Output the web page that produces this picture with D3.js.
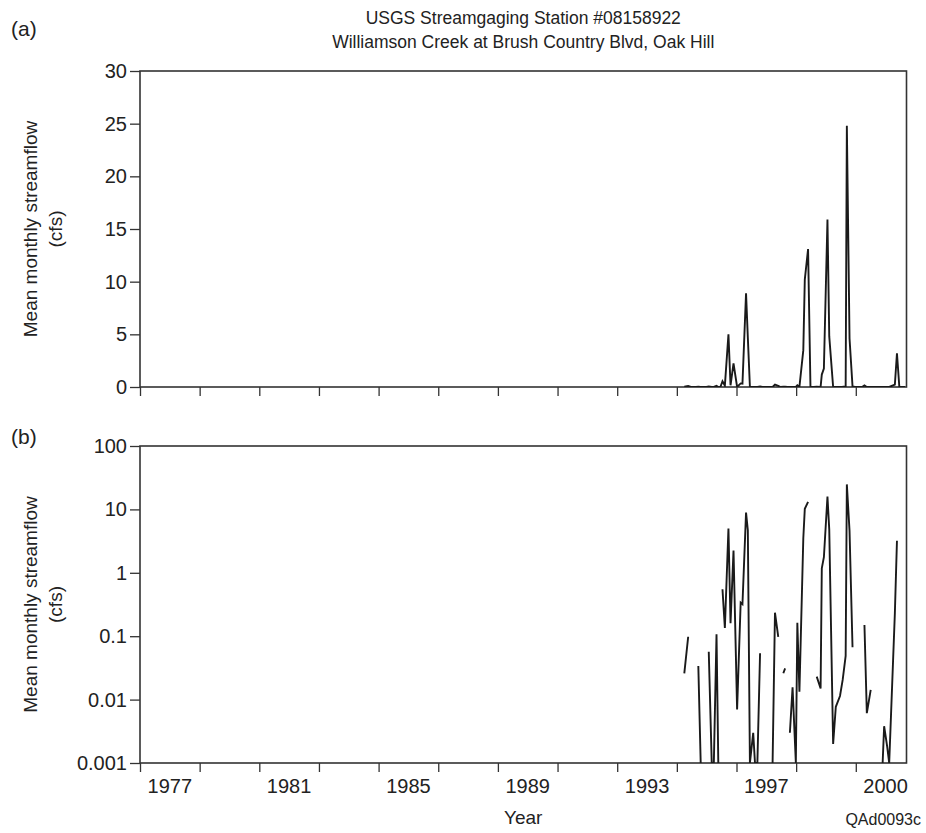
<!DOCTYPE html>
<html><head><meta charset="utf-8">
<script src="https://cdn.jsdelivr.net/npm/d3@7"></script>
<style>
body{margin:0;background:#fff}
text{font-family:"Liberation Sans",Arial,Helvetica,sans-serif;fill:#222}
</style>
</head><body>
<svg id="c" width="926" height="833"></svg>
<script>
// ---- data (decimal year, mean monthly streamflow in cfs) ----
const years = [1994.25,1994.38,1994.47,1994.64,1994.72,1994.80,1994.88,1994.99,
  1995.07,1995.17,1995.24,1995.33,1995.39,1995.46,1995.53,1995.61,1995.73,1995.80,1995.90,
  1996.02,1996.14,1996.20,1996.32,1996.38,1996.45,1996.56,1996.62,1996.70,1996.79,1996.87,
  1997.12,1997.21,1997.29,1997.40,1997.48,1997.57,1997.63,1997.71,1997.79,1997.88,1997.99,
  1998.04,1998.11,1998.24,1998.29,1998.40,1998.48,1998.59,1998.69,1998.82,1998.86,1998.93,
  1999.05,1999.11,1999.24,1999.33,1999.47,1999.56,1999.66,1999.70,1999.79,1999.89,1999.97,
  2000.21,2000.29,2000.37,2000.50,2000.57,2000.81,2000.90,2000.95,
  2001.05,2001.12,2001.31,2001.38,2001.46,2001.65];
const flow = [0.026,0.098,0,0,0.034,0.001,0,0,
  0.057,0.001,0.001,0.107,0.001,0,0.55,0.135,5.0,0.16,2.25,
  0.007,0.34,0.32,8.9,4.7,0.001,0.003,0.001,0.001,0.054,0,
  0,0.001,0.235,0.098,0,0.026,0.031,0,0.003,0.0156,0.001,
  0.163,0.0133,3.5,10.2,13.1,0,0,0.023,0.015,1.18,1.76,
  15.9,4.8,0.002,0.0077,0.0114,0.0204,0.049,24.8,4.6,0.067,0,
  0,0.15,0.0061,0.0142,0,0,0.001,0.0038,
  0.00185,0.001,0.232,3.2,0,0];

const xTickYears = [1976,1978,1980,1982,1984,1986,1988,1990,1992,1994,1996,1998,2000];
const xLabelYears = [1977,1981,1985,1989,1993,1997,2001];
const xLabelText = ["1977","1981","1985","1989","1993","1997","2000"];
const linTicks = [0,5,10,15,20,25,30];
const logTicks = [0.001,0.01,0.1,1,10,100];
const logTickText = ["0.001","0.01","0.1","1","10","100"];
const titleLines = ["USGS Streamgaging Station #08158922","Williamson Creek at Brush Country Blvd, Oak Hill"];

const data = years.map((y,i)=>({year:y, v:flow[i]}));
const svg = d3.select("#c");
const L = 140, R = 906.5;
const x = d3.scaleLinear().domain([1976, 2001.7]).range([L, R]);
const yTop = d3.scaleLinear().domain([0,30]).range([387, 71]);
const yBot = d3.scaleLog().domain([0.001,100]).range([763, 446]);
const AX = "#333", FS = 20;

// titles
svg.selectAll("text.title").data(titleLines).join("text")
  .attr("x", (L+R)/2).attr("y",(d,i)=>24+i*24).attr("text-anchor","middle")
  .style("font-size","17.5px").text(d=>d);

function panel(y, y0, y1, ticks, fmt, label, labY){
  const g = svg.append("g");
  const ya = d3.axisLeft(y).tickValues(ticks).tickFormat(fmt).tickSize(10).tickPadding(3);
  const gy = g.append("g").attr("transform",`translate(${L},0)`).call(ya);
  gy.select(".domain").remove();
  gy.selectAll("line").attr("stroke",AX).attr("stroke-width",1.3);
  gy.selectAll("text").style("font-size",FS+"px").style("font-family",'"Liberation Sans",Arial,sans-serif').attr("fill","#222");
  const xa = d3.axisBottom(x).tickValues(xTickYears).tickFormat("").tickSize(9);
  const gx = g.append("g").attr("transform",`translate(0,${y0})`).call(xa);
  gx.select(".domain").remove();
  gx.selectAll("line").attr("stroke",AX).attr("stroke-width",1.3);
  g.append("rect").attr("x",L).attr("y",y1).attr("width",R-L).attr("height",y0-y1)
    .attr("fill","none").attr("stroke",AX).attr("stroke-width",1.6);
  const cy = (y0+y1)/2;
  g.append("text").attr("transform",`translate(37,${cy}) rotate(-90)`).attr("text-anchor","middle")
    .style("font-size","19px").text("Mean monthly streamflow");
  g.append("text").attr("transform",`translate(62,${cy}) rotate(-90)`).attr("text-anchor","middle")
    .style("font-size","19px").text("(cfs)");
  g.append("text").attr("x",11).attr("y",labY).style("font-size","21px").text(label);
  return g;
}

panel(yTop, 387, 71, linTicks, d3.format("d"), "(a)", 36);
panel(yBot, 763, 446, logTicks, (d,i)=>logTickText[i], "(b)", 444);

svg.append("g").selectAll("text").data(xLabelYears).join("text")
  .attr("x",d=>x(d)).attr("y",793).attr("text-anchor","middle")
  .style("font-size",FS+"px").text((d,i)=>xLabelText[i]);

svg.append("text").attr("x",(L+R)/2).attr("y",824).attr("text-anchor","middle")
  .style("font-size","19px").text("Year");
svg.append("text").attr("x",921).attr("y",825).attr("text-anchor","end")
  .style("font-size","16px").text("QAd0093c");

const defs = svg.append("defs");
defs.append("clipPath").attr("id","clipT").append("rect").attr("x",L).attr("y",71).attr("width",R-L).attr("height",316);
defs.append("clipPath").attr("id","clipB").append("rect").attr("x",L).attr("y",446).attr("width",R-L).attr("height",317);

const lineTop = d3.line().x(d=>x(d.year)).y(d=>yTop(d.v));
svg.append("path").datum(data).attr("clip-path","url(#clipT)")
  .attr("d",lineTop).attr("fill","none").attr("stroke","#1a1a1a").attr("stroke-width",1.9);
const lineBot = d3.line().defined(d=>d.v>0).x(d=>x(d.year)).y(d=>yBot(d.v));
svg.append("path").datum(data).attr("clip-path","url(#clipB)")
  .attr("d",lineBot).attr("fill","none").attr("stroke","#1a1a1a").attr("stroke-width",1.9);
</script>
</body></html>
